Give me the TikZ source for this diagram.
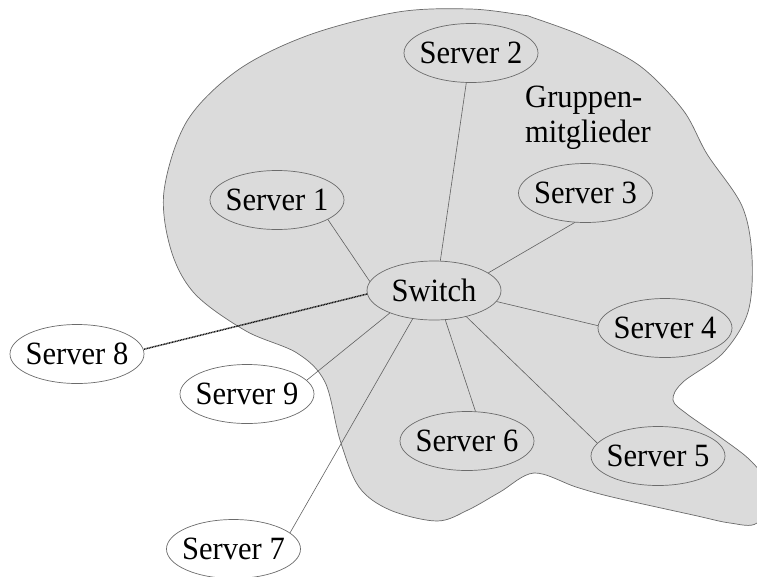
\documentclass[tikz,border=0pt]{standalone}
\usepackage{fontspec}
\setmainfont{Liberation Serif}[FakeStretch=0.94]
\usetikzlibrary{shapes.geometric}
% text of fixed-size ellipses: zero-width box so the ellipse keeps its set size
\newcommand{\ellabel}[1]{\makebox[0pt]{#1}}
\begin{document}
\begin{tikzpicture}[x=1pt,y=-1pt,
  server/.style={ellipse,draw=black!58,line width=0.7pt,minimum width=134pt,minimum height=59pt,inner sep=0pt,
    font=\fontsize{32.5}{35}\selectfont},
  link/.style={draw=black!62,line width=0.6pt},
  remote/.style={draw=black!92,line width=1.5pt,dash pattern=on 1pt off 0.6pt},
  label/.style={font=\fontsize{32.5}{34.5}\selectfont,align=left,inner sep=0pt}]
\useasboundingbox (0,0) rectangle (757,576);
\clip (0,0) rectangle (757,576);
% group area
\def\grouparea{plot[smooth cycle,tension=0.55] coordinates {
  (398,12) (470,9) (522,15) (534,18) (585,37) (640,66) (683,110) (707,154)
  (742,206) (752,257) (748,312) (723,353) (683,382) (673,400) (687,414)
  (720,437) (752,462) (772,492) (757,523) (730,523) (693,515) (612,497)
  (576,487) (534,473) (500,492) (468,510) (437,521) (390,510) (359,487)
  (340,440) (325,382) (297,353) (246,331) (195,294) (171,250) (164,191)
  (187,121) (238,70) (309,35)}}
\fill[black!14] \grouparea;
\draw[black!58,line width=0.7pt] \grouparea;
\node[label,anchor=north west] (grp) at (525,86) {Gruppen-\\mitglieder};
% nodes
\node[server] (sw) at (434,290.5) {\ellabel{Switch}};
\node[server] (s1) at (277,200) {\ellabel{Server 1}};
\node[server] (s2) at (471,53) {\ellabel{Server 2}};
\node[server] (s3) at (585.5,193) {\ellabel{Server 3}};
\node[server] (s4) at (665,328) {\ellabel{Server 4}};
\node[server] (s5) at (658,456) {\ellabel{Server 5}};
\node[server] (s6) at (467,441) {\ellabel{Server 6}};
\node[server,fill=white] (s7) at (233.5,549) {\ellabel{Server 7}};
\node[server,fill=white] (s8) at (77,354) {\ellabel{Server 8}};
\node[server,fill=white] (s9) at (247,394) {\ellabel{Server 9}};
% connections
\draw[link] (sw.172.3) -- (s1.-21.5);
\draw[link] (sw.78.2) -- (s2.261.5);
\draw[link] (sw.18.8) -- (s3.250.9);
\draw[link] (sw.-10.7) -- (s4.178.9);
\draw[link] (sw.-39.3) -- (s5.168.5);
\draw[link] (sw.-69.5) -- (s6.74.5);
\draw[link] (sw.233.5) -- (s7.16.6);
\draw[link] (sw.207.4) -- (s9.13.3);
\draw[remote] (sw.183.9) -- (s8.4.9);
\end{tikzpicture}
\end{document}
